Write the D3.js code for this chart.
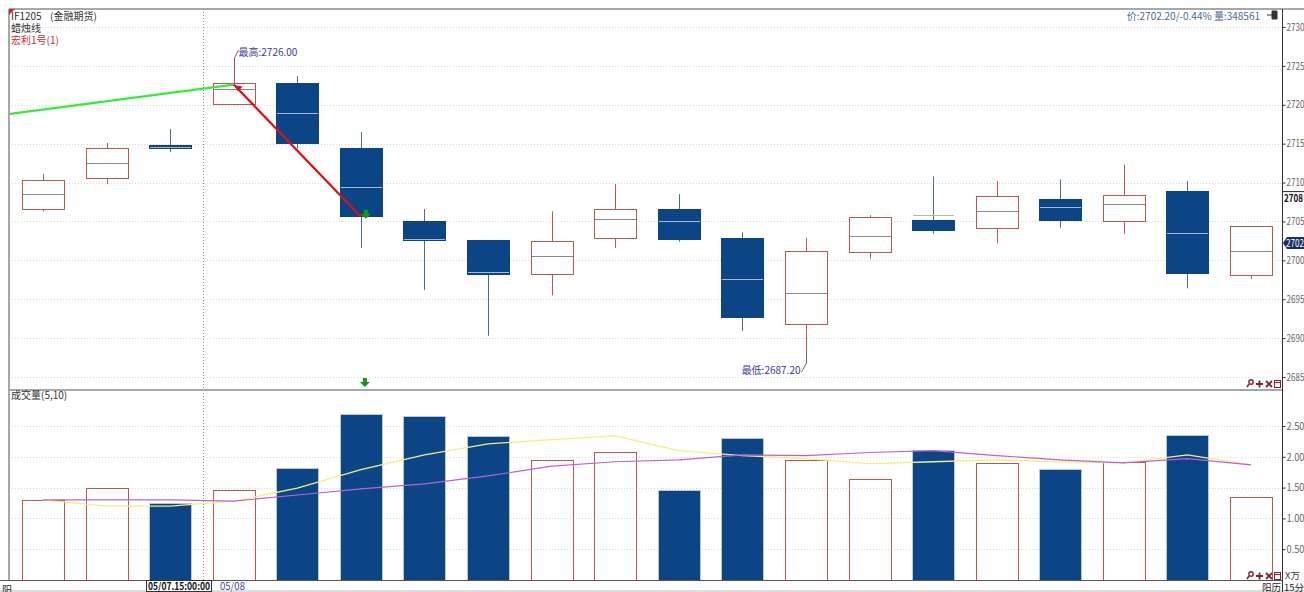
<!DOCTYPE html>
<html>
<head>
<meta charset="utf-8">
<script src="https://cdn.jsdelivr.net/npm/d3@7"></script>
<style>
  html, body { margin: 0; padding: 0; background: #fff; }
  svg { display: block; }
  text { font-family: "Noto Sans CJK SC", "DejaVu Sans", sans-serif; }
</style>
</head>
<body>
<div id="chart"></div>
<script>
// candle data (15 min bars)
const opens  = [2706.6, 2710.6, 2714.8, 2720.1, 2722.8, 2714.4, 2705.1, 2702.6, 2698.2, 2702.9, 2706.6, 2702.9, 2691.8, 2701.1, 2705.2, 2704.2, 2707.9, 2705.1, 2708.9, 2698.1];
const closes = [2710.3, 2714.4, 2714.4, 2722.8, 2715.1, 2705.6, 2702.6, 2698.2, 2702.5, 2706.6, 2702.8, 2692.7, 2701.2, 2705.6, 2703.9, 2708.3, 2705.2, 2708.4, 2698.4, 2704.4];
const highs  = [2711.1, 2715.1, 2716.9, 2722.9, 2723.7, 2716.5, 2706.6, 2702.6, 2706.3, 2709.8, 2708.5, 2703.6, 2702.9, 2705.8, 2710.8, 2710.2, 2710.4, 2712.3, 2710.2, 2704.4];
const lows   = [2706.3, 2709.8, 2713.9, 2720.0, 2714.4, 2701.6, 2696.2, 2690.3, 2695.5, 2701.6, 2702.4, 2690.9, 2688.2, 2700.2, 2703.4, 2702.2, 2704.2, 2703.4, 2696.4, 2697.6];
const mids   = [2708.5, 2712.5, 2714.6, 2722.0, 2719.0, 2709.4, 2702.8, 2698.5, 2700.6, 2705.3, 2705.1, 2697.6, 2695.8, 2703.1, 2705.8, 2706.4, 2706.9, 2707.2, 2703.5, 2701.2];

// volume in 10k lots, with MA5 / MA10
const volumes = [1.30, 1.49, 1.25, 1.46, 1.82, 2.69, 2.66, 2.33, 1.95, 2.08, 1.46, 2.31, 1.95, 1.64, 2.11, 1.90, 1.80, 1.92, 2.36, 1.34];
const ma5  = [1.30, 1.20, 1.20, 1.28, 1.49, 1.79, 2.03, 2.21, 2.28, 2.34, 2.10, 2.02, 1.97, 1.89, 1.92, 1.95, 1.92, 1.90, 2.03, 1.87];
const ma10 = [1.30, 1.30, 1.30, 1.28, 1.38, 1.48, 1.56, 1.69, 1.85, 1.92, 1.95, 2.03, 2.02, 2.07, 2.10, 2.02, 1.95, 1.90, 1.97, 1.87];

// signal lines of the strategy (bar index, price)
const longLeg  = [[-1, 2718.3], [3, 2722.6]];
const shortLeg = [[3, 2722.6], [5, 2705.6]];

const priceTicks = [2685, 2690, 2695, 2700, 2705, 2710, 2715, 2720, 2725, 2730];
const volTicks = [0.5, 1.0, 1.5, 2.0, 2.5];

const W = 1304, H = 592;
const left = 9, axisX = 1282;
const mainTop = 9, mainBottom = 389;
const volBottom = 580;

const blue = "#0b4586";
const red = "#c45454";

const svg = d3.select("#chart").append("svg")
  .attr("width", W).attr("height", H);

const x = d3.scaleLinear().domain([0, 19]).range([43, 1251]);
const y = d3.scaleLinear().domain([2685, 2730]).range([377, 27]);
const yv = d3.scaleLinear().domain([0, 2.5]).range([580, 426]);
const bw = 42;

svg.append("defs").append("clipPath").attr("id", "mainClip")
  .append("rect").attr("x", left + 1).attr("y", mainTop).attr("width", axisX - left - 1).attr("height", mainBottom - mainTop);

// grid
svg.append("g").selectAll("line").data(priceTicks).join("line")
  .attr("x1", left).attr("x2", axisX)
  .attr("y1", d => Math.round(y(d)) + 0.5).attr("y2", d => Math.round(y(d)) + 0.5)
  .attr("stroke", "#d8d8d8").attr("stroke-dasharray", "1,2");
svg.append("g").selectAll("line").data(volTicks).join("line")
  .attr("x1", left).attr("x2", axisX)
  .attr("y1", d => Math.round(yv(d)) + 0.5).attr("y2", d => Math.round(yv(d)) + 0.5)
  .attr("stroke", "#d8d8d8").attr("stroke-dasharray", "1,2");

// crosshair
svg.append("line")
  .attr("x1", 203.5).attr("x2", 203.5).attr("y1", mainTop).attr("y2", volBottom)
  .attr("stroke", "#8888a0").attr("stroke-dasharray", "1,2");

const idx = d3.range(opens.length);
const up = i => closes[i] >= opens[i] && i !== 2;

// candles
const candles = svg.append("g");
candles.selectAll(".wick").data(idx).join("line")
  .attr("x1", i => Math.round(x(i)) + 0.5).attr("x2", i => Math.round(x(i)) + 0.5)
  .attr("y1", i => y(highs[i])).attr("y2", i => y(lows[i]))
  .attr("stroke", i => up(i) ? red : "#4d6b8c");
candles.selectAll(".body").data(idx).join("rect")
  .attr("x", i => Math.round(x(i) - bw / 2) + 0.5)
  .attr("y", i => Math.round(y(Math.max(opens[i], closes[i]))) + 0.5)
  .attr("width", bw)
  .attr("height", i => Math.max(2, Math.round(Math.abs(y(opens[i]) - y(closes[i])))))
  .attr("fill", i => up(i) ? "#fff" : blue)
  .attr("stroke", i => up(i) ? red : blue);
candles.selectAll(".mid").data(idx).join("line")
  .attr("x1", i => Math.round(x(i) - bw / 2) + 1).attr("x2", i => Math.round(x(i) + bw / 2))
  .attr("y1", i => Math.round(y(mids[i])) + 0.5).attr("y2", i => Math.round(y(mids[i])) + 0.5)
  .attr("stroke", i => up(i) ? "#8a8a8a" : "#a8b8cc");

// signal lines
const sig = svg.append("g").attr("clip-path", "url(#mainClip)");
const pl = d3.line().x(d => x(d[0])).y(d => y(d[1]));
sig.append("path").attr("d", pl(longLeg)).attr("fill", "none")
  .attr("stroke", "#33ee33").attr("stroke-width", 2.2);
sig.append("path").attr("d", pl(shortLeg)).attr("fill", "none")
  .attr("stroke", "#e01010").attr("stroke-width", 2.2);
const sx = x(shortLeg[0][0]), sy = y(shortLeg[0][1]);
sig.append("path")
  .attr("d", `M${sx},${sy} l7,1 l-5,5 z`)
  .attr("fill", "#e01010").attr("transform", `translate(2,1)`);
function downArrow(cx, cy) {
  svg.append("path")
    .attr("d", `M${cx - 2},${cy - 5} h4 v4 h3 l-5,5 l-5,-5 h3 z`)
    .attr("fill", "#119911");
}
downArrow(x(5) + 5, y(2705.6) - 2);
downArrow(x(5) + 4, 383);

// high / low annotations
const hx = Math.round(x(3)) + 0.5;
svg.append("path").attr("d", `M${hx},${y(2722.9)} V58 L${hx + 4},50`)
  .attr("fill", "none").attr("stroke", "#9a5050");
svg.append("text").attr("x", hx + 4).attr("y", 56)
  .attr("font-size", 10).attr("fill", "#3a3a9a").text("最高:2726.00");
const lx = Math.round(x(12)) + 0.5;
svg.append("path").attr("d", `M${lx},${y(lows[12])} V363 L${lx - 5},372`)
  .attr("fill", "none").attr("stroke", "#666");
svg.append("text").attr("x", lx - 6).attr("y", 374).attr("text-anchor", "end")
  .attr("font-size", 10).attr("fill", "#3a3a9a").text("最低:2687.20");

// volume bars
const vol = svg.append("g");
vol.selectAll("rect").data(idx).join("rect")
  .attr("x", i => Math.round(x(i) - bw / 2) + 0.5)
  .attr("y", i => Math.round(yv(volumes[i])) + 0.5)
  .attr("width", bw)
  .attr("height", i => yv(0) - Math.round(yv(volumes[i])))
  .attr("fill", i => up(i) ? "none" : blue)
  .attr("stroke", i => up(i) ? red : "#b8c8d8");

const vl = d3.line().x((d, i) => x(i)).y(d => yv(d));
svg.append("path").attr("d", vl(ma5)).attr("fill", "none")
  .attr("stroke", "#f4f07a").attr("stroke-width", 1.3);
svg.append("path").attr("d", vl(ma10)).attr("fill", "none")
  .attr("stroke", "#c060d8").attr("stroke-width", 1.2);

// frame
svg.append("line").attr("x1", left).attr("x2", W).attr("y1", 9).attr("y2", 9)
  .attr("stroke", "#a8a8a8").attr("stroke-width", 2);
svg.append("line").attr("x1", left).attr("x2", left).attr("y1", 9).attr("y2", volBottom)
  .attr("stroke", "#a8a8a8").attr("stroke-width", 2);
svg.append("line").attr("x1", left).attr("x2", axisX).attr("y1", 390).attr("y2", 390)
  .attr("stroke", "#a8a8a8").attr("stroke-width", 2);
svg.append("line").attr("x1", 0).attr("x2", axisX).attr("y1", volBottom + 0.5).attr("y2", volBottom + 0.5)
  .attr("stroke", "#555");
svg.append("line").attr("x1", 0).attr("x2", W).attr("y1", 591).attr("y2", 591)
  .attr("stroke", "#ddd").attr("stroke-width", 2);
svg.append("path").attr("d", "M9,9 h6 l-6,6 z").attr("fill", "#e02020");

// right axes
const axP = svg.append("g").attr("transform", `translate(${axisX + 0.5},0)`)
  .call(d3.axisRight(y).tickValues(priceTicks).tickSize(3).tickFormat(d3.format("d")));
const axV = svg.append("g").attr("transform", `translate(${axisX + 0.5},0)`)
  .call(d3.axisRight(yv).tickValues(volTicks).tickSize(3).tickFormat(d3.format(".2f")));
[axP, axV].forEach(g => {
  g.select(".domain").remove();
  g.selectAll("line").attr("stroke", "#333");
  g.selectAll("text").attr("x", 4).attr("font-size", 10).attr("fill", "#666")
    .attr("textLength", 18).attr("lengthAdjust", "spacingAndGlyphs")
    .style("font-family", "'Noto Sans CJK SC', sans-serif");
});
svg.append("line").attr("x1", axisX + 0.5).attr("x2", axisX + 0.5).attr("y1", 9).attr("y2", H)
  .attr("stroke", "#333");

// axis highlight labels
svg.append("rect").attr("x", axisX + 1).attr("y", y(2708) - 7).attr("width", 22).attr("height", 13).attr("fill", "#fff");
svg.append("line").attr("x1", axisX + 1).attr("x2", W).attr("y1", y(2708) - 6.5).attr("y2", y(2708) - 6.5).attr("stroke", "#222");
svg.append("text").attr("x", axisX + 2).attr("y", y(2708) + 4).attr("font-size", 10).attr("font-weight", "bold")
  .attr("fill", "#111").attr("textLength", 19).attr("lengthAdjust", "spacingAndGlyphs").text("2708");
const cy2 = Math.round(y(2702.2));
svg.append("path").attr("d", `M${axisX + 1},${cy2} l4,-6 h${W - axisX} v12 h-${W - axisX} z`).attr("fill", "#14306a");
svg.append("text").attr("x", axisX + 4).attr("y", cy2 + 4).attr("font-size", 10)
  .attr("fill", "#fff").attr("textLength", 18).attr("lengthAdjust", "spacingAndGlyphs").text("2702");

// header texts
const hdr = svg.append("text").attr("x", 11).attr("y", 20).attr("font-size", 10).attr("fill", "#333");
hdr.append("tspan").text("IF1205");
hdr.append("tspan").attr("x", 50).text("(金融期货)");
svg.append("text").attr("x", 11).attr("y", 32).attr("font-size", 10).attr("fill", "#333").text("蜡烛线");
svg.append("text").attr("x", 11).attr("y", 44).attr("font-size", 10).attr("fill", "#c83030").text("宏利1号(1)");
svg.append("text").attr("x", 1260).attr("y", 20).attr("font-size", 10).attr("text-anchor", "end")
  .attr("fill", "#4a6a8a").text("价:2702.20/-0.44% 量:348561");
svg.append("path").attr("d", "M1267,15 h5 M1272,11 v8 h5 v-8 z").attr("stroke", "#333").attr("fill", "#333");
svg.append("text").attr("x", 11).attr("y", 399).attr("font-size", 10).attr("fill", "#333").text("成交量(5,10)");

// panel icons
function icons(ix, iy) {
  const g = svg.append("g").attr("transform", `translate(${ix},${iy})`).attr("stroke", "#8a2020").attr("fill", "none");
  g.append("circle").attr("cx", 3).attr("cy", -2).attr("r", 2.2).attr("stroke-width", 1.4);
  g.append("line").attr("x1", 1).attr("y1", 0).attr("x2", -1).attr("y2", 3).attr("stroke-width", 1.6);
  g.append("path").attr("d", "M8,0 h7 M11.5,-3.5 v7").attr("stroke-width", 1.8);
  g.append("path").attr("d", "M18,-3 l6,6 M24,-3 l-6,6").attr("stroke-width", 1.8);
  g.append("rect").attr("x", 26.5).attr("y", -3.5).attr("width", 6).attr("height", 7).attr("stroke-width", 1);
  g.append("line").attr("x1", 26.5).attr("x2", 32.5).attr("y1", -1.5).attr("y2", -1.5);
}
icons(1248, 384);
icons(1248, 576);
svg.append("text").attr("x", 1285).attr("y", 579).attr("font-size", 9.5).attr("fill", "#333").text("X万");

// time axis
svg.append("rect").attr("x", 146.5).attr("y", 580.5).attr("width", 65).attr("height", 11)
  .attr("fill", "#fff").attr("stroke", "#333");
svg.append("text").attr("x", 148).attr("y", 590).attr("font-size", 10).attr("font-weight", "bold")
  .attr("fill", "#111").attr("textLength", 62).attr("lengthAdjust", "spacingAndGlyphs").text("05/07.15:00:00");
svg.append("text").attr("x", 220).attr("y", 590).attr("font-size", 10).attr("fill", "#4a4a9a")
  .attr("textLength", 25).attr("lengthAdjust", "spacingAndGlyphs").text("05/08");
svg.append("text").attr("x", 1262).attr("y", 591).attr("font-size", 9.5).attr("fill", "#222").text("阳历");
svg.append("text").attr("x", 1284).attr("y", 591).attr("font-size", 9.5).attr("fill", "#222").text("15分钟");
svg.append("text").attr("x", 2).attr("y", 594).attr("font-size", 10).attr("fill", "#222").text("阳");
</script>
</body>
</html>
